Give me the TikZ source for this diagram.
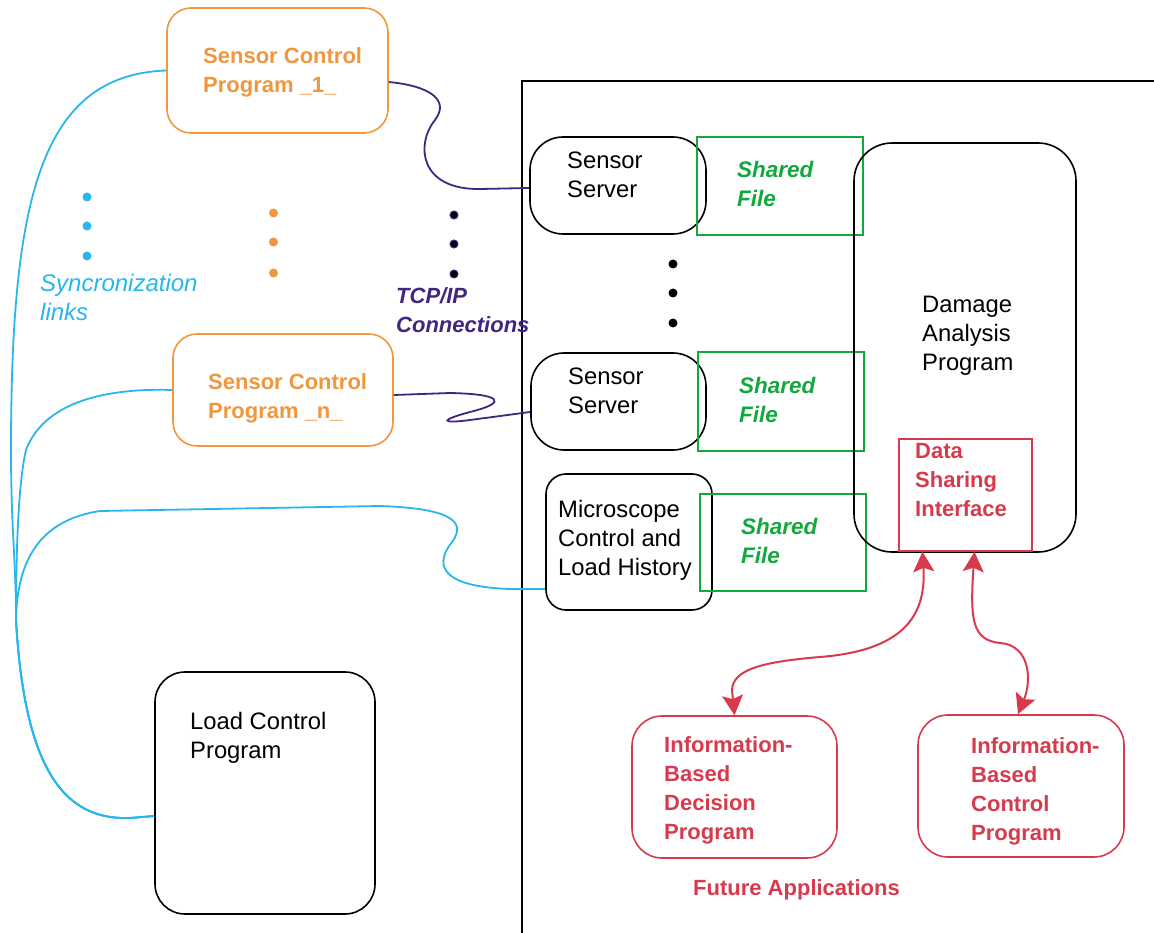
\documentclass[tikz,border=0pt]{standalone}
\usepackage{fontspec}
\setmainfont{Liberation Sans}
\usetikzlibrary{arrows.meta}
\definecolor{corange}{RGB}{240,150,60}
\definecolor{cblue}{RGB}{40,182,236}
\definecolor{cpurple}{RGB}{66,36,130}
\definecolor{cgreen}{RGB}{18,168,62}
\definecolor{cred}{RGB}{214,58,76}
\begin{document}
\begin{tikzpicture}[x=1pt,y=-1pt,
  box/.style={draw, line width=1.6pt, inner sep=0pt},
  obox/.style={box, draw=corange, rounded corners=24pt},
  kbox/.style={box, draw=black, rounded corners=30pt},
  gbox/.style={box, draw=cgreen},
  rbox/.style={box, draw=cred, rounded corners=30pt},
  txt/.style={inner sep=0pt, anchor=north west, align=left, font=\fontsize{23.8}{29}\selectfont},
  btxt/.style={inner sep=0pt, anchor=north west, align=left, font=\fontsize{22}{29}\selectfont\bfseries},
  bitxt/.style={inner sep=0pt, anchor=north west, align=left, font=\fontsize{22.5}{29}\selectfont\bfseries\itshape},
  itxt/.style={inner sep=0pt, anchor=north west, align=left, font=\fontsize{24}{29}\selectfont\itshape},
  blueline/.style={draw=cblue, line width=1.8pt},
  purpleline/.style={draw=cpurple, line width=1.8pt},
  redarrow/.style={draw=cred, line width=2pt, {Stealth[length=20pt,width=21pt,inset=4pt]}-{Stealth[length=20pt,width=21pt,inset=4pt]}},
  framel/.style={draw=black, line width=1.6pt},
  dot/.style={circle, inner sep=0pt, minimum size=9pt}
]
\useasboundingbox (0,0) rectangle (1154,933);

% frame
\coordinate (f1) at (522,933);
\coordinate (f2) at (522,81);
\coordinate (f3) at (1154,81);
\draw[framel] (f1) -- (f2) -- (f3);

% boxes
\node[obox, minimum width=221pt, minimum height=125pt] (scp1) at (277.5,70.5) {};
\node[obox, minimum width=220pt, minimum height=112pt] (scpn) at (283,390) {};
\node[kbox, minimum width=220pt, minimum height=242pt] (lcp) at (265,793) {};
\node[kbox, rounded corners=33pt, minimum width=176pt, minimum height=97pt] (ss1) at (618,185.5) {};
\node[gbox, minimum width=166pt, minimum height=98pt] (sf1) at (780,186) {};
\node[kbox, rounded corners=33pt, minimum width=175pt, minimum height=97pt] (ss2) at (618.5,401.5) {};
\node[gbox, minimum width=166pt, minimum height=99pt] (sf2) at (781,401.5) {};
\node[kbox, rounded corners=20pt, minimum width=166pt, minimum height=136pt] (mic) at (629,542) {};
\node[gbox, minimum width=166pt, minimum height=97pt] (sf3) at (783,542.5) {};
\node[kbox, rounded corners=38pt, minimum width=222pt, minimum height=409pt] (dap) at (965,347.5) {};
\node[box, draw=cred, minimum width=133pt, minimum height=112pt] (dsi) at (965.5,495) {};
\node[rbox, minimum width=205pt, minimum height=142pt] (ibd) at (734.5,787) {};
\node[rbox, minimum width=206pt, minimum height=142pt] (ibc) at (1021,786) {};

% texts
\node[btxt, text=corange] (t1) at (203,47) {Sensor Control\\Program \_1\_};
\node[btxt, text=corange] (t2) at (208,373) {Sensor Control\\Program \_n\_};
\node[txt] (t3) at (190,712) {Load Control\\Program};
\node[txt] (t4) at (567,152) {Sensor\\Server};
\node[txt] (t5) at (568,368) {Sensor\\Server};
\node[txt] (t6) at (558,500) {Microscope\\Control and\\Load History};
\node[bitxt, text=cgreen] (t7) at (737,161) {Shared\\File};
\node[bitxt, text=cgreen] (t8) at (739,377) {Shared\\File};
\node[bitxt, text=cgreen] (t9) at (741,518) {Shared\\File};
\node[txt] (t10) at (922,296) {Damage\\Analysis\\Program};
\node[btxt, text=cred] (t11) at (915,443) {Data\\Sharing\\Interface};
\node[btxt, text=cred] (t12) at (664,736) {Information-\\Based\\Decision\\Program};
\node[btxt, text=cred] (t13) at (971,737) {Information-\\Based\\Control\\Program};
\node[btxt, text=cred] (t14) at (693,879) {Future Applications};
\node[itxt, text=cblue] (t15) at (40,274) {Syncronization\\links};
\node[bitxt, text=cpurple, font=\fontsize{22}{29}\selectfont\bfseries\itshape] (t16) at (396,287) {TCP/IP\\Connections};

% dots
\foreach \y [count=\i] in {197,226,256} \node[dot, fill=cblue] (bd\i) at (87,\y) {};
\foreach \y [count=\i] in {213,242,273} \node[dot, fill=corange] (od\i) at (273.5,\y) {};
\foreach \y [count=\i] in {215,244,274} \node[dot, fill=black, draw=cpurple, line width=1pt, minimum size=8pt] (pd\i) at (454,\y) {};
\foreach \y [count=\i] in {264,293,323} \node[dot, fill=black] (kd\i) at (673,\y) {};

% synchronization links
\coordinate (merge) at (16,620);
\draw[blueline] (scp1.west) .. controls (40,75) and (11,200) .. (11,450) .. controls (11,530) and (16,560) .. (merge) .. controls (25,780) and (70,820) .. (130,818) -- ([yshift=-23pt]lcp.west);
\draw[blueline] (scpn.west) .. controls (110,388) and (45,400) .. (26,450) .. controls (19,480) and (16,540) .. (merge) .. controls (25,780) and (70,820) .. (130,818) -- ([yshift=-23pt]lcp.west);
\draw[blueline] ([yshift=-47pt]mic.west) -- (510,589) .. controls (450,587) and (430,570) .. (452,542) .. controls (470,518) and (440,508) .. (380,506) -- (100,511) .. controls (40,520) and (17,560) .. (merge) .. controls (25,780) and (70,820) .. (130,818) -- ([yshift=-23pt]lcp.west);

% TCP/IP connections
\draw[purpleline] ([yshift=-11.5pt]scp1.east) .. controls (430,86) and (450,100) .. (435,120) .. controls (415,145) and (420,190) .. (480,189) -- ([yshift=-2.5pt]ss1.west);
\draw[purpleline] ([yshift=-5pt]scpn.east) -- (450,393) .. controls (500,394) and (510,402) .. (470,412) .. controls (440,420) and (440,424) .. (470,420) -- ([yshift=-10.5pt]ss2.west);

% data sharing arrows
\draw[redarrow] ([xshift=-43pt]dsi.south) .. controls (926,610) and (910,650) .. (820,657) .. controls (760,662) and (733,670) .. (732,690) -- (ibd.north);
\draw[redarrow] ([xshift=9pt]dsi.south) .. controls (970,620) and (972,640) .. (1000,643) .. controls (1030,645) and (1032,680) .. ([xshift=-3pt]ibc.north);
\end{tikzpicture}
\end{document}
